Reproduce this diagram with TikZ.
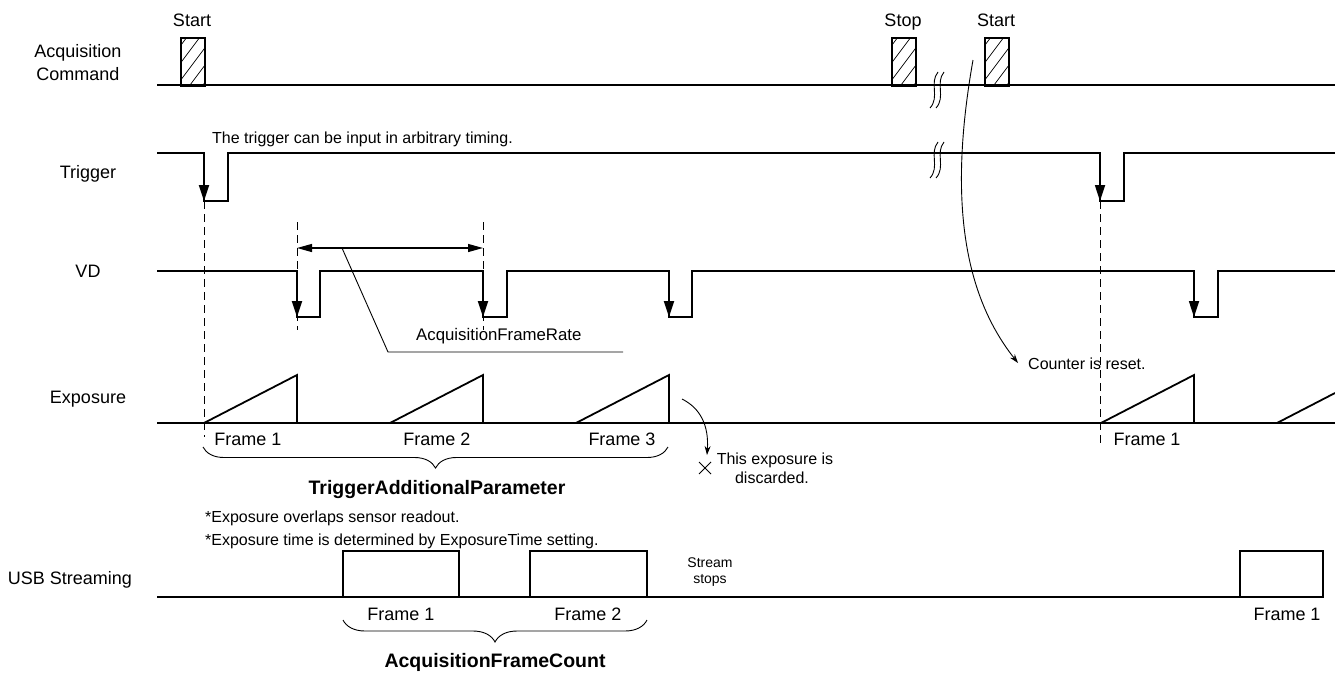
\documentclass[tikz,border=0pt]{standalone}
\usepackage{fontspec}
\setmainfont{Liberation Sans}
\usetikzlibrary{arrows.meta,decorations.pathreplacing}
\newcommand\hatchbox[2]{%
  \begin{scope}
    \clip (#1,37) rectangle ++(24,48);
    \foreach \k in {-42,-29,...,28} \draw[line width=0.7pt] (#1+\k,85) -- ++(36,-48);
  \end{scope}
  \node[draw, line width=1.8pt, minimum width=24pt, minimum height=48pt, inner sep=0pt, anchor=north west] (#2) at (#1,37) {};
}
\newcommand\breakmark[2]{%
  \foreach \d in {0,6} {
    \draw[line width=0.9pt] (#1-5+\d,#2+18) .. controls (#1+5+\d,#2+7) and (#1-6+\d,#2-7) .. (#1+3+\d,#2-18);
  }
}
\begin{document}
\begin{tikzpicture}[x=1pt,y=-1pt,
  sig/.style={line width=1.8pt, line join=miter},
  thinl/.style={line width=0.9pt},
  dsh/.style={line width=1pt, dash pattern=on 8pt off 5pt},
  sigarrow/.style={line width=1.8pt, -{Triangle[length=16pt,width=10pt]}},
  lbl/.style={font=\fontsize{18}{21}\selectfont, anchor=base, inner sep=0pt},
  small/.style={font=\fontsize{16}{19}\selectfont, anchor=base, inner sep=0pt},
  tiny/.style={font=\fontsize{14}{16}\selectfont, anchor=base, inner sep=0pt},
  boldl/.style={font=\fontsize{19.5}{22}\selectfont\bfseries, anchor=base, inner sep=0pt},
  brc/.style={line width=0.9pt, decorate, decoration={brace, mirror, amplitude=#1}},
]
\useasboundingbox (0,0) rectangle (1335,675);

% ---------- left labels ----------
\node[lbl] (acq1) at (78,57) {Acquisition};
\node[lbl] (acq2) at (78,80) {Command};
\node[lbl] (trgL) at (88,178) {Trigger};
\node[lbl] (vdL) at (88,277) {VD};
\node[lbl] (expL) at (88,403) {Exposure};
\node[lbl] (usbL) at (70,584) {USB Streaming};

% ---------- acquisition command ----------
\draw[sig] (157,85) -- (1335,85);
\hatchbox{180}{start1}
\hatchbox{891}{stop1}
\hatchbox{984}{start2}
\node[lbl] (startT1) at (192,26) {Start};
\node[lbl] (stopT) at (903,26) {Stop};
\node[lbl] (startT2) at (996,26) {Start};
\breakmark{935}{90}

% ---------- trigger ----------
\draw[sig] (157,153) -- (204,153) -- (204,201) -- (228,201) -- (228,153) -- (1100,153) -- (1100,201) -- (1124,201) -- (1124,153) -- (1335,153);
\draw[sigarrow] (204,153) -- (204,201);
\draw[sigarrow] (1100,153) -- (1100,201);
\node[small, anchor=base west] (trgNote) at (212,143) {The trigger can be input in arbitrary timing.};
\breakmark{935}{160}

% ---------- VD ----------
\draw[sig] (157,271) -- (297,271) -- (297,317) -- (320,317) -- (320,271)
  -- (483,271) -- (483,317) -- (507,317) -- (507,271)
  -- (669,271) -- (669,317) -- (692,317) -- (692,271)
  -- (1194,271) -- (1194,317) -- (1218,317) -- (1218,271) -- (1335,271);
\foreach \x in {297,483,669,1194} \draw[sigarrow] (\x,271) -- (\x,317);

% dashed guides
\coordinate (d1a) at (204,201); \coordinate (d1b) at (204,437);
\coordinate (d2a) at (1100,201); \coordinate (d2b) at (1100,445);
\coordinate (d3a) at (297,222); \coordinate (d3b) at (297,330);
\coordinate (d4a) at (483,222); \coordinate (d4b) at (483,330);
\draw[dsh] (d1a) -- (d1b);
\draw[dsh] (d2a) -- (d2b);
\draw[dsh] (d3a) -- (d3b);
\draw[dsh] (d4a) -- (d4b);

% frame rate dimension
\coordinate (frA) at (297,248); \coordinate (frB) at (483,248);
\draw[line width=1.2pt, {Triangle[length=15pt,width=8pt]}-{Triangle[length=15pt,width=8pt]}] (frA) -- (frB);
\coordinate (ld1) at (342,248); \coordinate (ld2) at (388,352); \coordinate (ld3) at (623,352);
\draw[thinl] (ld1) -- (ld2) -- (ld3);
\node[small, anchor=base west, font=\fontsize{16.8}{19}\selectfont] (frT) at (416,340) {AcquisitionFrameRate};

% counter reset
\coordinate (cr0) at (973,60);
\node[small, anchor=base west] (crT) at (1028,369) {Counter is reset.};
\draw[thinl, -{Stealth[length=9pt,width=6pt]}] (cr0) .. controls (950,190) and (960,290) .. (1018,363);

% ---------- exposure ----------
\draw[sig] (157,423) -- (1335,423);
\foreach \p in {297,483,669,1194} \draw[sig] (\p-93,423) -- (\p,375) -- (\p,423);
\draw[sig] (1277,423) -- (1335,393);
\node[lbl] (ef1) at (248,445) {Frame 1};
\node[lbl] (ef2) at (437,445) {Frame 2};
\node[lbl] (ef3) at (622,445) {Frame 3};
\node[lbl] (ef4) at (1147,445) {Frame 1};
\coordinate (b1a) at (203,447); \coordinate (b1b) at (668,447);
\draw[brc=21pt] (b1a) -- (b1b);
\node[boldl] (tap) at (437,494) {TriggerAdditionalParameter};
\node[small, anchor=base west] (n1) at (205,522) {*Exposure overlaps sensor readout.};
\node[small, anchor=base west] (n2) at (205,545) {*Exposure time is determined by ExposureTime setting.};

% discarded
\coordinate (ds0) at (682,399); \coordinate (ds1) at (707,455);
\draw[thinl, -{Stealth[length=9pt,width=6pt]}] (ds0) .. controls (700,408) and (709,425) .. (ds1);
\draw[line width=1pt] (699,462) -- (711,474) (699,474) -- (711,462);
\node[small] (dsT1) at (775,464) {This exposure is};
\node[small] (dsT2) at (772,483) {discarded.};

% ---------- USB streaming ----------
\draw[sig] (157,597) -- (343,597) -- (343,551) -- (459,551) -- (459,597)
  -- (530,597) -- (530,551) -- (647,551) -- (647,597)
  -- (1240,597) -- (1240,551) -- (1323,551) -- (1323,597) -- cycle;
\draw[sig] (1240,597) -- (1323,597);
\node[tiny] (ss1) at (710,567) {Stream};
\node[tiny] (ss2) at (710,583) {stops};
\node[lbl] (uf1) at (401,620) {Frame 1};
\node[lbl] (uf2) at (588,620) {Frame 2};
\node[lbl] (uf3) at (1287,620) {Frame 1};
\coordinate (b2a) at (343,620); \coordinate (b2b) at (647,620);
\draw[brc=22pt] (b2a) -- (b2b);
\node[boldl] (afc) at (495,667) {AcquisitionFrameCount};
\end{tikzpicture}
\end{document}
